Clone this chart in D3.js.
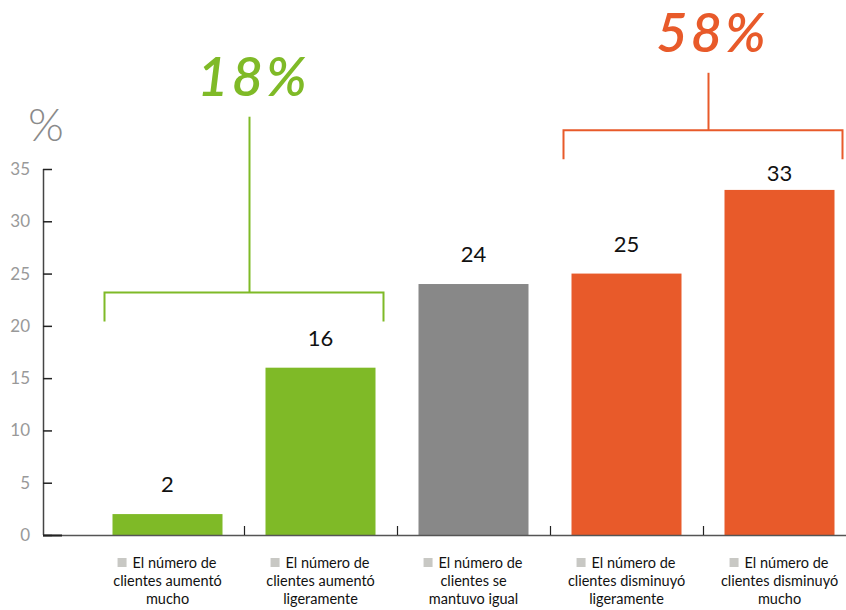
<!DOCTYPE html>
<html>
<head>
<meta charset="utf-8">
<script src="https://cdn.jsdelivr.net/npm/d3@7"></script>
<style>
  html, body { margin: 0; padding: 0; background: #fff; }
  svg { display: block; font-family: Lato, "Open Sans", sans-serif; }
</style>
</head>
<body>
<svg id="chart" width="846" height="610"></svg>
<script>
// Survey answers: change in number of clients
const categories = [
  ["El número de", "clientes aumentó", "mucho"],
  ["El número de", "clientes aumentó", "ligeramente"],
  ["El número de", "clientes se", "mantuvo igual"],
  ["El número de", "clientes disminuyó", "ligeramente"],
  ["El número de", "clientes disminuyó", "mucho"]
];
const values = [2, 16, 24, 25, 33];
const barColors = ["#7fba27", "#7fba27", "#888888", "#e85a2a", "#e85a2a"];
const yTicks = [0, 5, 10, 15, 20, 25, 30, 35];

// Grouped totals shown above brackets (level/stem in axis units)
const groups = [
  { label: "18%", from: 0, to: 1, color: "#7fba27", level: 23.2, stem: 40.0 },
  { label: "58%", from: 3, to: 4, color: "#e85a2a", level: 38.7, stem: 44.2 }
];

const svg = d3.select("#chart");
const x0 = 43, baseY = 535, drop = 29;

const x = d3.scaleBand()
  .domain(d3.range(values.length))
  .range([91, 856])
  .paddingInner(0);
const barW = 110;
const y = d3.scaleLinear().domain([0, 35]).range([baseY, 169]);

// y axis
const yAxis = d3.axisRight(y).tickValues(yTicks).tickSize(9).tickFormat("");
const ya = svg.append("g").attr("transform", `translate(${x0},0)`).call(yAxis);
ya.select(".domain").attr("stroke", "#444").attr("stroke-width", 1.5)
  .attr("d", `M0.5,${y(35)}V${baseY}`);
ya.selectAll(".tick line").attr("stroke", "#222").attr("stroke-width", 1.5);

svg.append("g").selectAll("text").data(yTicks).join("text")
  .attr("x", 30).attr("y", d => y(d) + 6)
  .attr("text-anchor", "end")
  .attr("fill", "#999").attr("font-size", 17)
  .text(d => d);

svg.append("text").attr("x", 28).attr("y", 141)
  .attr("fill", "#8a8a8a").attr("font-size", 46).attr("font-weight", 300)
  .text("%");

// bars
svg.append("g").selectAll("rect").data(values).join("rect")
  .attr("x", (d, i) => x(i) + (x.bandwidth() - barW) / 2)
  .attr("width", barW)
  .attr("y", d => y(d))
  .attr("height", d => baseY - y(d))
  .attr("fill", (d, i) => barColors[i]);

// x axis baseline with separators between categories
svg.append("line").attr("x1", x0).attr("x2", 846)
  .attr("y1", baseY + 0.5).attr("y2", baseY + 0.5)
  .attr("stroke", "#555").attr("stroke-width", 1.5);
svg.append("line").attr("x1", x0).attr("x2", 62)
  .attr("y1", baseY + 0.5).attr("y2", baseY + 0.5)
  .attr("stroke", "#222").attr("stroke-width", 2);
svg.append("g").selectAll("line").data(d3.range(1, values.length)).join("line")
  .attr("x1", i => Math.round(x(i)) + 0.5).attr("x2", i => Math.round(x(i)) + 0.5)
  .attr("y1", baseY - 9).attr("y2", baseY)
  .attr("stroke", "#222").attr("stroke-width", 1.2);

// lowest edge of any bracket above a bar, so value labels stay clear of it
function bracketFloor(i) {
  const g = groups.find(gr => i >= gr.from && i <= gr.to && y(gr.level) + drop < y(values[i]));
  return g ? y(g.level) + drop : -Infinity;
}

// value labels
svg.append("g").selectAll("text").data(values).join("text")
  .attr("x", (d, i) => x(i) + x.bandwidth() / 2)
  .attr("y", (d, i) => Math.max(y(d) - 22, bracketFloor(i) + 22))
  .attr("text-anchor", "middle")
  .attr("fill", "#111").attr("font-size", 22)
  .text(d => d);

// category labels
const cat = svg.append("g").selectAll("g").data(categories).join("g")
  .attr("transform", (d, i) => `translate(${x(i) + x.bandwidth() / 2},0)`);
cat.each(function(lines) {
  const g = d3.select(this);
  const t = g.append("text").attr("text-anchor", "middle")
    .attr("font-size", 14.5).attr("fill", "#111");
  lines.forEach((ln, k) => {
    t.append("tspan").attr("x", k === 0 ? 7 : 0).attr("y", 568 + k * 18).text(ln);
  });
  const w = t.select("tspan").node().getComputedTextLength();
  g.append("rect").attr("x", 7 - w / 2 - 15).attr("y", 558)
    .attr("width", 9).attr("height", 9).attr("fill", "#c8c8c4");
});

// brackets with group totals; the stem sits a little right of centre
groups.forEach(gr => {
  const cx1 = x(gr.from) + x.bandwidth() / 2 - 63;
  const cx2 = x(gr.to) + x.bandwidth() / 2 + 63;
  const ly = y(gr.level);
  const stemX = (cx1 + cx2) / 2 + 5.5;
  const g = svg.append("g").attr("stroke", gr.color).attr("stroke-width", 2).attr("fill", "none");
  g.append("path").attr("d", `M${cx1},${ly + drop}V${ly}H${cx2}V${ly + drop}`);
  g.append("line").attr("x1", stemX).attr("x2", stemX).attr("y1", ly).attr("y2", y(gr.stem));
  svg.append("text").attr("x", stemX + 4).attr("y", y(gr.stem) - 21)
    .attr("text-anchor", "middle").attr("fill", gr.color)
    .attr("font-size", 54).attr("font-style", "italic").attr("font-weight", 600)
    .attr("letter-spacing", 3)
    .text(gr.label);
});
</script>
</body>
</html>
